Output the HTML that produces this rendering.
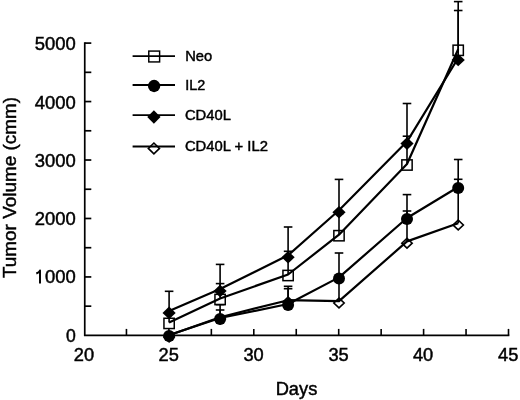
<!DOCTYPE html>
<html><head><meta charset="utf-8"><title>Tumor Volume</title>
<style>html,body{margin:0;padding:0;background:#fff;width:520px;height:400px;overflow:hidden}svg{display:block;will-change:transform}text{font-family:"Liberation Sans",sans-serif}</style>
</head><body>
<svg width="520" height="400" viewBox="0 0 520 400">
<rect width="520" height="400" fill="#fff"/>
<g stroke="#000" fill="none">
<path d="M84.75 43.1 V335.4 H508.5" stroke-width="1.7" fill="none" stroke-linecap="square"/>
<line x1="84.75" y1="43.10" x2="91.30" y2="43.10" stroke-width="1.7"/>
<line x1="84.75" y1="72.33" x2="91.30" y2="72.33" stroke-width="1.7"/>
<line x1="84.75" y1="101.56" x2="91.30" y2="101.56" stroke-width="1.7"/>
<line x1="84.75" y1="130.79" x2="91.30" y2="130.79" stroke-width="1.7"/>
<line x1="84.75" y1="160.02" x2="91.30" y2="160.02" stroke-width="1.7"/>
<line x1="84.75" y1="189.25" x2="91.30" y2="189.25" stroke-width="1.7"/>
<line x1="84.75" y1="218.48" x2="91.30" y2="218.48" stroke-width="1.7"/>
<line x1="84.75" y1="247.71" x2="91.30" y2="247.71" stroke-width="1.7"/>
<line x1="84.75" y1="276.94" x2="91.30" y2="276.94" stroke-width="1.7"/>
<line x1="84.75" y1="306.17" x2="91.30" y2="306.17" stroke-width="1.7"/>
<line x1="126.45" y1="328.90" x2="126.45" y2="335.40" stroke-width="1.6"/>
<line x1="168.90" y1="328.90" x2="168.90" y2="335.40" stroke-width="1.6"/>
<line x1="211.35" y1="328.90" x2="211.35" y2="335.40" stroke-width="1.6"/>
<line x1="253.80" y1="328.90" x2="253.80" y2="335.40" stroke-width="1.6"/>
<line x1="296.25" y1="328.90" x2="296.25" y2="335.40" stroke-width="1.6"/>
<line x1="338.70" y1="328.90" x2="338.70" y2="335.40" stroke-width="1.6"/>
<line x1="381.15" y1="328.90" x2="381.15" y2="335.40" stroke-width="1.6"/>
<line x1="423.60" y1="328.90" x2="423.60" y2="335.40" stroke-width="1.6"/>
<line x1="466.05" y1="328.90" x2="466.05" y2="335.40" stroke-width="1.6"/>
<line x1="508.50" y1="328.90" x2="508.50" y2="335.40" stroke-width="1.6"/>
<line x1="169.10" y1="322.40" x2="169.10" y2="313.00" stroke-width="1.6"/>
<line x1="164.80" y1="313.00" x2="173.40" y2="313.00" stroke-width="1.6"/>
<line x1="220.10" y1="298.50" x2="220.10" y2="283.60" stroke-width="1.6"/>
<line x1="215.80" y1="283.60" x2="224.40" y2="283.60" stroke-width="1.6"/>
<line x1="288.10" y1="274.50" x2="288.10" y2="251.30" stroke-width="1.6"/>
<line x1="283.80" y1="251.30" x2="292.40" y2="251.30" stroke-width="1.6"/>
<line x1="339.00" y1="234.70" x2="339.00" y2="214.00" stroke-width="1.6"/>
<line x1="334.70" y1="214.00" x2="343.30" y2="214.00" stroke-width="1.6"/>
<line x1="407.00" y1="164.00" x2="407.00" y2="136.20" stroke-width="1.6"/>
<line x1="402.70" y1="136.20" x2="411.30" y2="136.20" stroke-width="1.6"/>
<line x1="458.20" y1="49.30" x2="458.20" y2="1.60" stroke-width="1.6"/>
<line x1="453.90" y1="1.60" x2="462.50" y2="1.60" stroke-width="1.6"/>
<line x1="169.10" y1="310.90" x2="169.10" y2="291.30" stroke-width="1.6"/>
<line x1="164.80" y1="291.30" x2="173.40" y2="291.30" stroke-width="1.6"/>
<line x1="220.10" y1="289.00" x2="220.10" y2="264.40" stroke-width="1.6"/>
<line x1="215.80" y1="264.40" x2="224.40" y2="264.40" stroke-width="1.6"/>
<line x1="288.10" y1="255.30" x2="288.10" y2="227.00" stroke-width="1.6"/>
<line x1="283.80" y1="227.00" x2="292.40" y2="227.00" stroke-width="1.6"/>
<line x1="339.00" y1="210.20" x2="339.00" y2="179.40" stroke-width="1.6"/>
<line x1="334.70" y1="179.40" x2="343.30" y2="179.40" stroke-width="1.6"/>
<line x1="407.00" y1="141.60" x2="407.00" y2="103.50" stroke-width="1.6"/>
<line x1="402.70" y1="103.50" x2="411.30" y2="103.50" stroke-width="1.6"/>
<line x1="458.20" y1="58.00" x2="458.20" y2="10.50" stroke-width="1.6"/>
<line x1="453.90" y1="10.50" x2="462.50" y2="10.50" stroke-width="1.6"/>
<line x1="220.10" y1="318.00" x2="220.10" y2="310.00" stroke-width="1.6"/>
<line x1="215.80" y1="310.00" x2="224.40" y2="310.00" stroke-width="1.6"/>
<line x1="288.10" y1="304.00" x2="288.10" y2="286.30" stroke-width="1.6"/>
<line x1="283.80" y1="286.30" x2="292.40" y2="286.30" stroke-width="1.6"/>
<line x1="339.00" y1="277.40" x2="339.00" y2="253.00" stroke-width="1.6"/>
<line x1="334.70" y1="253.00" x2="343.30" y2="253.00" stroke-width="1.6"/>
<line x1="407.00" y1="218.00" x2="407.00" y2="194.60" stroke-width="1.6"/>
<line x1="402.70" y1="194.60" x2="411.30" y2="194.60" stroke-width="1.6"/>
<line x1="458.20" y1="187.00" x2="458.20" y2="159.50" stroke-width="1.6"/>
<line x1="453.90" y1="159.50" x2="462.50" y2="159.50" stroke-width="1.6"/>
<line x1="220.10" y1="317.20" x2="220.10" y2="304.60" stroke-width="1.6"/>
<line x1="215.80" y1="304.60" x2="224.40" y2="304.60" stroke-width="1.6"/>
<line x1="288.10" y1="300.20" x2="288.10" y2="288.70" stroke-width="1.6"/>
<line x1="283.80" y1="288.70" x2="292.40" y2="288.70" stroke-width="1.6"/>
<line x1="339.00" y1="301.20" x2="339.00" y2="279.00" stroke-width="1.6"/>
<line x1="334.70" y1="279.00" x2="343.30" y2="279.00" stroke-width="1.6"/>
<line x1="407.00" y1="241.40" x2="407.00" y2="211.00" stroke-width="1.6"/>
<line x1="402.70" y1="211.00" x2="411.30" y2="211.00" stroke-width="1.6"/>
<line x1="458.20" y1="223.20" x2="458.20" y2="179.30" stroke-width="1.6"/>
<line x1="453.90" y1="179.30" x2="462.50" y2="179.30" stroke-width="1.6"/>
<polyline points="169.10,322.40 220.10,298.50 288.10,274.50 339.00,234.70 407.00,164.00 458.20,49.30" fill="none" stroke-width="2.2" stroke-linejoin="round"/>
<polyline points="169.10,310.90 220.10,289.00 288.10,255.30 339.00,210.20 407.00,141.60 458.20,58.00" fill="none" stroke-width="2.2" stroke-linejoin="round"/>
<polyline points="169.10,335.00 220.10,318.00 288.10,304.00 339.00,277.40 407.00,218.00 458.20,187.00" fill="none" stroke-width="2.2" stroke-linejoin="round"/>
<polyline points="169.10,335.20 220.10,317.20 288.10,300.20 339.00,301.20 407.00,241.40 458.20,223.20" fill="none" stroke-width="2.2" stroke-linejoin="round"/>
</g>
<g stroke="#000">
<path d="M169.10 332.13 L174.27 337.00 L169.10 341.87 L163.93 337.00Z" fill="none" stroke-width="1.6"/>
<path d="M220.10 314.13 L225.27 319.00 L220.10 323.87 L214.93 319.00Z" fill="none" stroke-width="1.6"/>
<path d="M288.10 297.13 L293.27 302.00 L288.10 306.87 L282.93 302.00Z" fill="none" stroke-width="1.6"/>
<path d="M339.00 298.13 L344.17 303.00 L339.00 307.87 L333.83 303.00Z" fill="none" stroke-width="1.6"/>
<path d="M407.00 238.33 L412.17 243.20 L407.00 248.07 L401.83 243.20Z" fill="none" stroke-width="1.6"/>
<path d="M458.20 220.13 L463.37 225.00 L458.20 229.87 L453.03 225.00Z" fill="none" stroke-width="1.6"/>
<rect x="163.95" y="318.25" width="10.30" height="10.30" fill="none" stroke-width="1.5"/>
<rect x="214.95" y="294.35" width="10.30" height="10.30" fill="none" stroke-width="1.5"/>
<rect x="282.95" y="270.35" width="10.30" height="10.30" fill="none" stroke-width="1.5"/>
<rect x="333.85" y="230.55" width="10.30" height="10.30" fill="none" stroke-width="1.5"/>
<rect x="401.85" y="159.85" width="10.30" height="10.30" fill="none" stroke-width="1.5"/>
<rect x="453.05" y="45.15" width="10.30" height="10.30" fill="none" stroke-width="1.5"/>
<path d="M169.10 306.60 L175.70 312.90 L169.10 319.20 L162.50 312.90Z" fill="#000" stroke-width="0" stroke="none"/>
<path d="M220.10 284.70 L226.70 291.00 L220.10 297.30 L213.50 291.00Z" fill="#000" stroke-width="0" stroke="none"/>
<path d="M288.10 251.00 L294.70 257.30 L288.10 263.60 L281.50 257.30Z" fill="#000" stroke-width="0" stroke="none"/>
<path d="M339.00 205.90 L345.60 212.20 L339.00 218.50 L332.40 212.20Z" fill="#000" stroke-width="0" stroke="none"/>
<path d="M407.00 137.30 L413.60 143.60 L407.00 149.90 L400.40 143.60Z" fill="#000" stroke-width="0" stroke="none"/>
<path d="M458.20 53.70 L464.80 60.00 L458.20 66.30 L451.60 60.00Z" fill="#000" stroke-width="0" stroke="none"/>
<circle cx="169.10" cy="336.00" r="6.00" fill="#000" stroke="none"/>
<circle cx="220.10" cy="319.00" r="6.00" fill="#000" stroke="none"/>
<circle cx="288.10" cy="305.00" r="6.00" fill="#000" stroke="none"/>
<circle cx="339.00" cy="278.40" r="6.00" fill="#000" stroke="none"/>
<circle cx="407.00" cy="219.00" r="6.00" fill="#000" stroke="none"/>
<circle cx="458.20" cy="188.00" r="6.00" fill="#000" stroke="none"/>
<line x1="132.60" y1="56.10" x2="175.00" y2="56.10" stroke-width="1.9"/>
<line x1="132.60" y1="85.00" x2="175.00" y2="85.00" stroke-width="1.9"/>
<line x1="132.60" y1="115.15" x2="175.00" y2="115.15" stroke-width="1.9"/>
<line x1="132.60" y1="146.50" x2="175.00" y2="146.50" stroke-width="1.9"/>
<rect x="148.77" y="51.08" width="10.85" height="10.85" fill="none" stroke-width="1.45"/>
<circle cx="154.10" cy="86.00" r="6.15" fill="#000" stroke="none"/>
<path d="M153.90 110.35 L160.55 117.05 L153.90 123.75 L147.25 117.05Z" fill="#000" stroke-width="0" stroke="none"/>
<path d="M153.90 143.03 L159.47 148.40 L153.90 153.77 L148.33 148.40Z" fill="none" stroke-width="1.6"/>
</g>
<g fill="#000" stroke="#000" stroke-width="0.45" font-family="Liberation Sans, sans-serif">
<text x="185.2" y="60.8" font-size="14.3" text-anchor="start" textLength="27" lengthAdjust="spacingAndGlyphs" >Neo</text>
<text x="185.2" y="90.1" font-size="14.3" text-anchor="start" textLength="20" lengthAdjust="spacingAndGlyphs" >IL2</text>
<text x="184.9" y="120.2" font-size="14.3" text-anchor="start" textLength="46" lengthAdjust="spacingAndGlyphs" >CD40L</text>
<text x="184.9" y="151.4" font-size="14.3" text-anchor="start" textLength="83" lengthAdjust="spacingAndGlyphs" >CD40L + IL2</text>
<text x="75.7" y="49.9" font-size="17.6" text-anchor="end" textLength="41" lengthAdjust="spacingAndGlyphs" >5000</text>
<text x="75.7" y="108.5" font-size="17.6" text-anchor="end" textLength="41" lengthAdjust="spacingAndGlyphs" >4000</text>
<text x="75.7" y="166.5" font-size="17.6" text-anchor="end" textLength="41" lengthAdjust="spacingAndGlyphs" >3000</text>
<text x="75.7" y="224.6" font-size="17.6" text-anchor="end" textLength="41" lengthAdjust="spacingAndGlyphs" >2000</text>
<text x="75.7" y="283.4" font-size="17.6" text-anchor="end" textLength="30.75" lengthAdjust="spacingAndGlyphs" >000</text>
<text x="75.7" y="341.8" font-size="17.6" text-anchor="end" >0</text>
<text x="84.0" y="361.0" font-size="17.6" text-anchor="middle" textLength="20.3" lengthAdjust="spacingAndGlyphs" >20</text>
<text x="168.75" y="361.0" font-size="17.6" text-anchor="middle" textLength="20.3" lengthAdjust="spacingAndGlyphs" >25</text>
<text x="253.55" y="361.0" font-size="17.6" text-anchor="middle" textLength="20.3" lengthAdjust="spacingAndGlyphs" >30</text>
<text x="338.55" y="361.0" font-size="17.6" text-anchor="middle" textLength="20.3" lengthAdjust="spacingAndGlyphs" >35</text>
<text x="423.05" y="361.0" font-size="17.6" text-anchor="middle" textLength="20.3" lengthAdjust="spacingAndGlyphs" >40</text>
<text x="508.25" y="361.0" font-size="17.6" text-anchor="middle" textLength="20.3" lengthAdjust="spacingAndGlyphs" >45</text>
<text x="296.5" y="394.8" font-size="17.6" text-anchor="middle" textLength="41.6" lengthAdjust="spacingAndGlyphs" >Days</text>
<text transform="translate(16.1 187.5) rotate(-90)" x="0" y="0" font-size="18.5" text-anchor="middle" textLength="181" lengthAdjust="spacingAndGlyphs">Tumor Volume (cmm)</text>
</g>
<path d="M36.3 273.50 C38.2 272.80 39.6 271.80 40.0 270.50 V283.60" fill="none" stroke="#000" stroke-width="1.95" stroke-linejoin="round"/>
</svg>
</body></html>
